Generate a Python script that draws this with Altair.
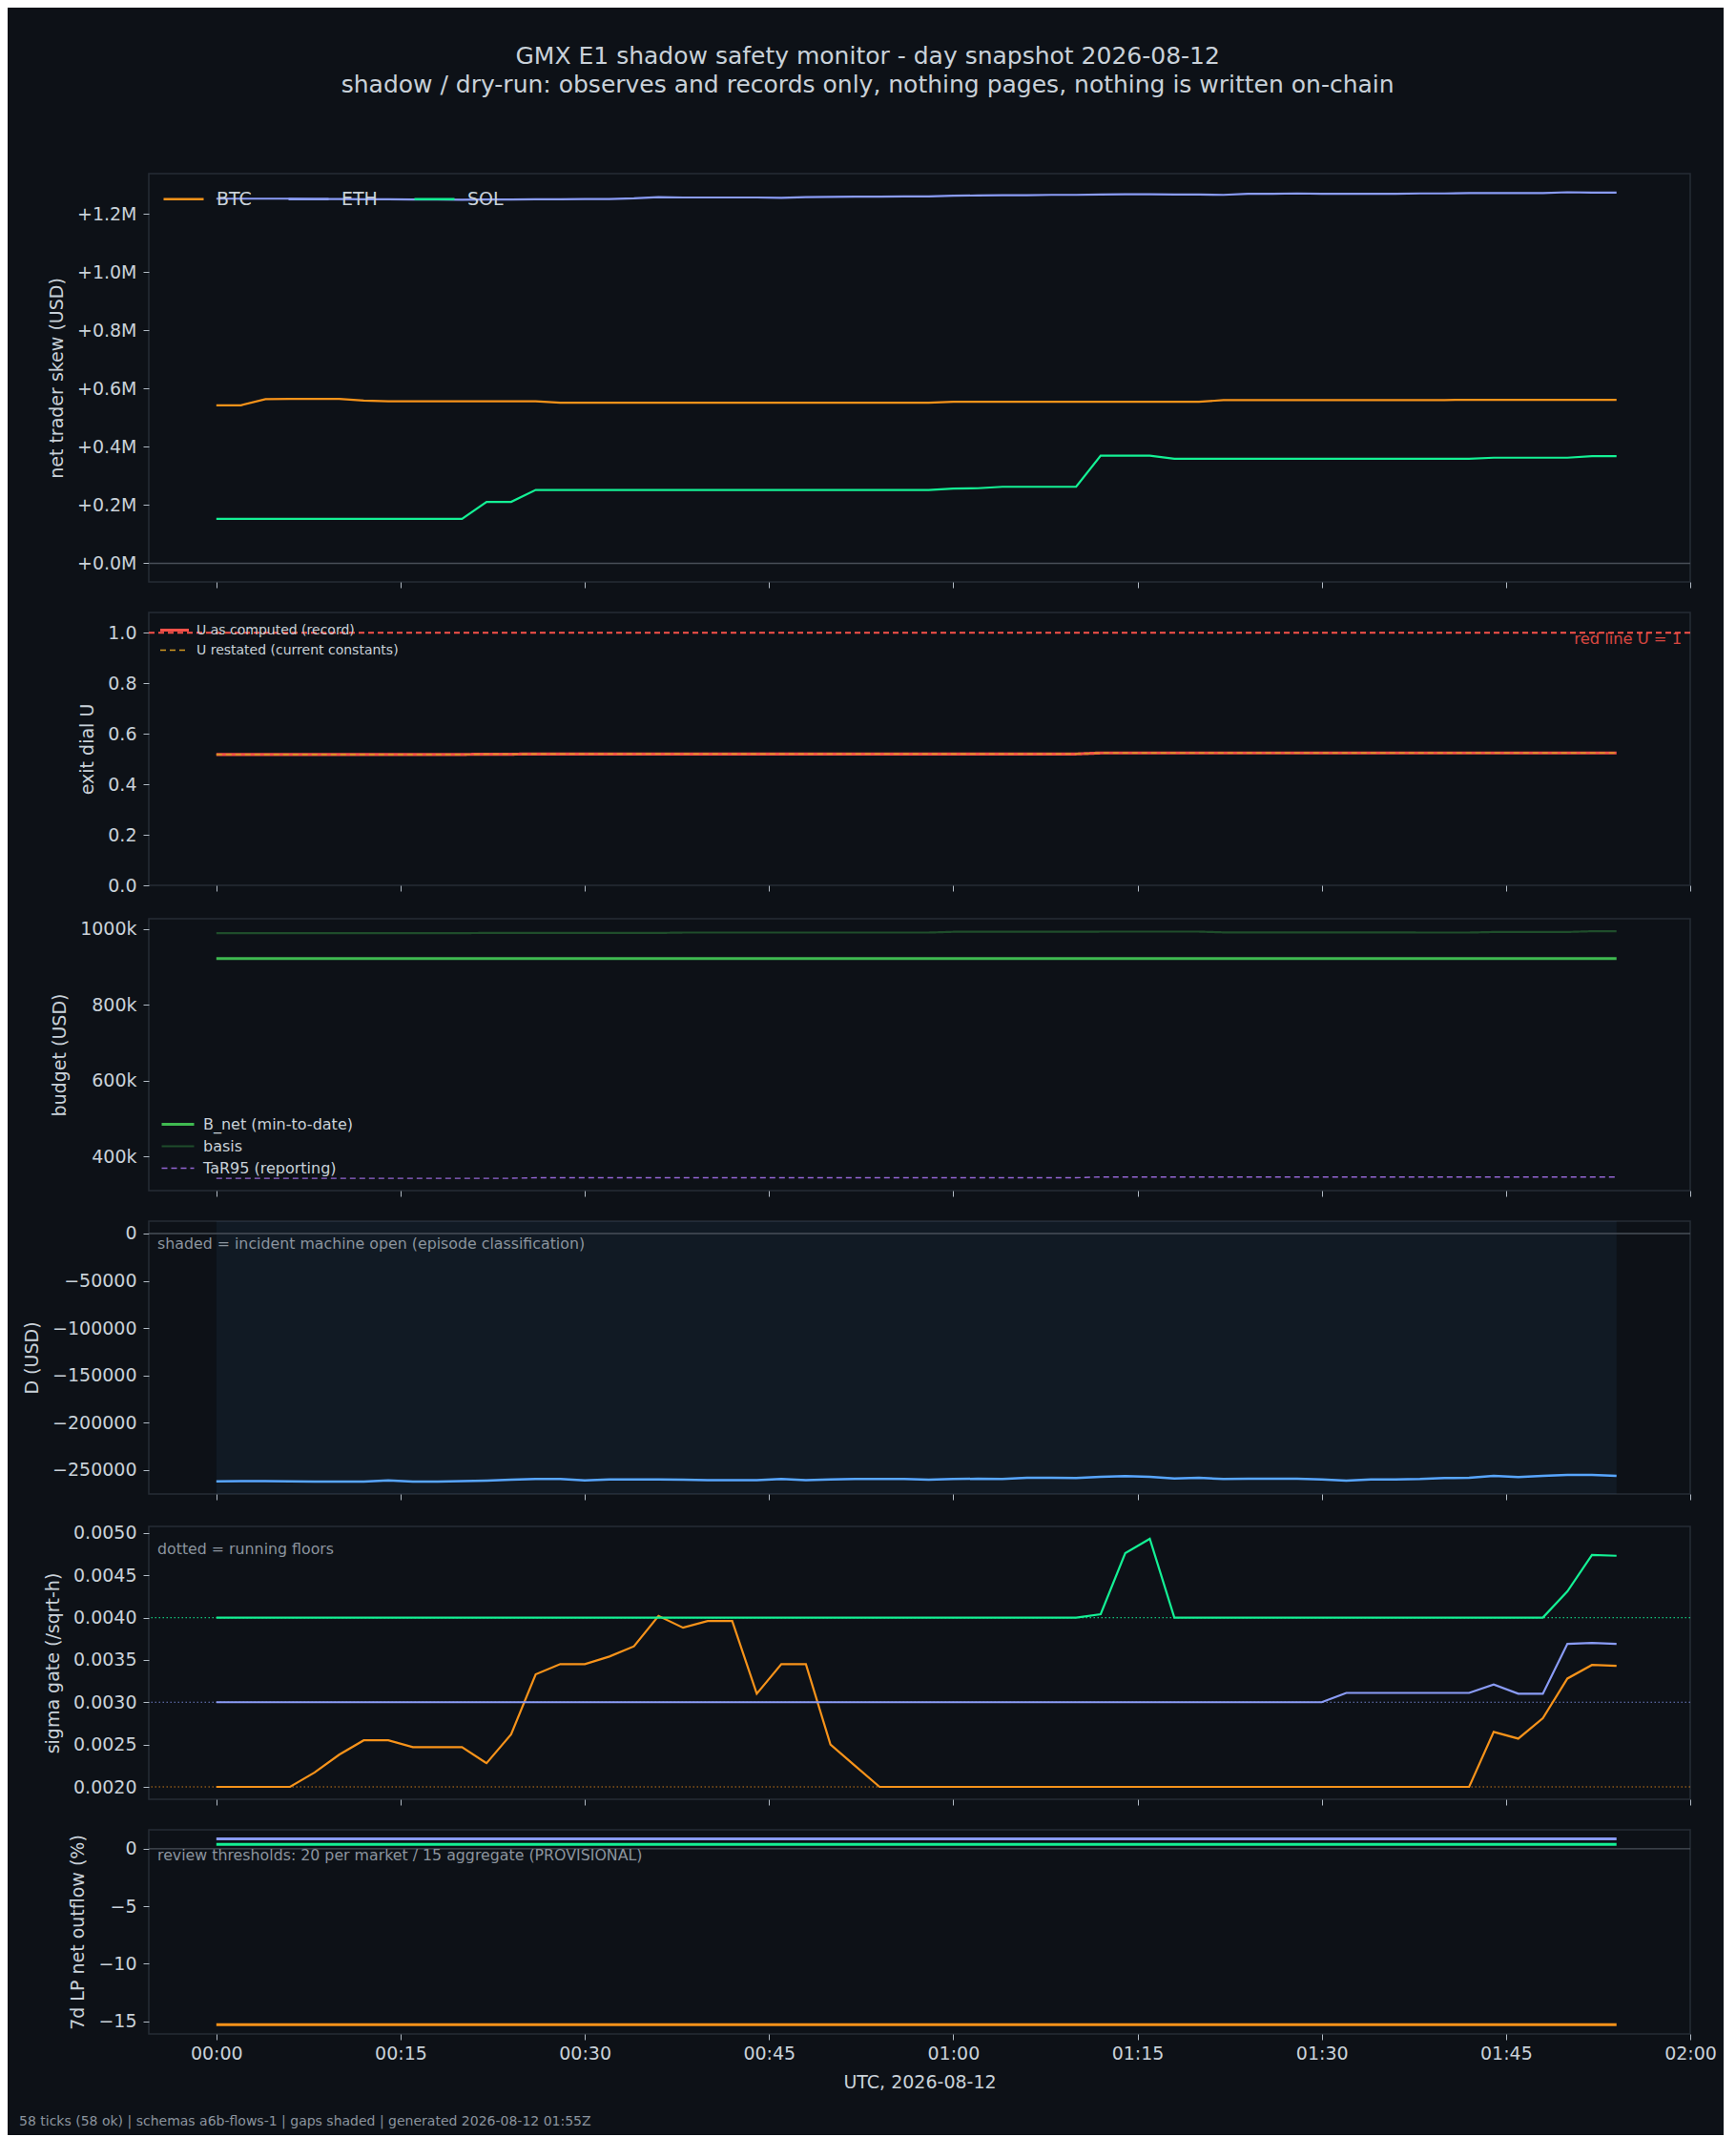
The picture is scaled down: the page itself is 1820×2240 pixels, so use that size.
import altair as alt
import pandas as pd

# 58 ticks, one every two minutes from 00:00 UTC
MINUTES = list(range(0, 116, 2))
X_TICKS = [0, 15, 30, 45, 60, 75, 90, 105, 120]
X_TICK_LABELS = ["00:00", "00:15", "00:30", "00:45", "01:00", "01:15", "01:30", "01:45", "02:00"]

MARKETS = ["BTC", "ETH", "SOL"]
MARKET_COLORS = ["#f7931a", "#8a9cf6", "#14f195"]

SKEW_BTC = [543000, 543000, 564000, 565000, 565000, 565000, 559000, 557000, 557000, 557000,
            557000, 557000, 557000, 557000, 552000, 552000, 552000, 552000, 552000, 552000,
            552000, 552000, 552000, 552000, 552000, 552000, 552000, 552000, 552000, 552000,
            555000, 555000, 555000, 555000, 555000, 555000, 555000, 555000, 555000, 555000,
            555000, 561000, 561000, 561000, 561000, 561000, 561000, 561000, 561000, 561000,
            561000, 562000, 562000, 562000, 562000, 562000, 562000, 562000]
SKEW_ETH = [1253000, 1253000, 1253000, 1253000, 1252000, 1252000, 1251000, 1251000, 1250000, 1250000,
            1249000, 1250000, 1250000, 1251000, 1251000, 1252000, 1252000, 1254000, 1258000, 1257000,
            1257000, 1257000, 1257000, 1256000, 1258000, 1259000, 1260000, 1260000, 1261000, 1261000,
            1263000, 1264000, 1265000, 1265000, 1266000, 1266000, 1267000, 1268000, 1268000, 1267000,
            1267000, 1266000, 1270000, 1270000, 1271000, 1270000, 1270000, 1270000, 1270000, 1271000,
            1271000, 1272000, 1272000, 1272000, 1272000, 1275000, 1274000, 1274000]
SKEW_SOL = [153000, 153000, 153000, 153000, 153000, 153000, 153000, 153000, 153000, 153000,
            153000, 211000, 211000, 252000, 252000, 252000, 252000, 252000, 252000, 252000,
            252000, 252000, 252000, 252000, 252000, 252000, 252000, 252000, 252000, 252000,
            257000, 258000, 263000, 263000, 263000, 263000, 370000, 370000, 370000, 359500,
            359500, 359500, 359500, 359500, 359500, 359500, 359500, 359500, 359500, 359500,
            359500, 359500, 363000, 363000, 363000, 363000, 368000, 368000]

U_SERIES = ["U as computed (record)", "U restated (current constants)"]
U_RECORD = [0.518, 0.518, 0.518, 0.518, 0.518, 0.518, 0.518, 0.518, 0.518, 0.518,
            0.518, 0.519, 0.519, 0.520, 0.520, 0.520, 0.520, 0.520, 0.520, 0.520,
            0.520, 0.520, 0.520, 0.520, 0.520, 0.520, 0.520, 0.520, 0.520, 0.520,
            0.520, 0.520, 0.520, 0.520, 0.520, 0.520, 0.524, 0.524, 0.524, 0.524,
            0.524, 0.524, 0.524, 0.524, 0.524, 0.524, 0.524, 0.524, 0.524, 0.524,
            0.524, 0.524, 0.524, 0.524, 0.524, 0.524, 0.524, 0.524]
U_RESTATED = [0.518, 0.518, 0.518, 0.518, 0.518, 0.518, 0.518, 0.518, 0.518, 0.518,
              0.518, 0.519, 0.519, 0.520, 0.520, 0.520, 0.520, 0.520, 0.520, 0.520,
              0.520, 0.520, 0.520, 0.520, 0.520, 0.520, 0.520, 0.520, 0.520, 0.520,
              0.520, 0.520, 0.520, 0.520, 0.520, 0.520, 0.524, 0.524, 0.524, 0.524,
              0.524, 0.524, 0.524, 0.524, 0.524, 0.524, 0.524, 0.524, 0.524, 0.524,
              0.524, 0.524, 0.524, 0.524, 0.524, 0.524, 0.524, 0.524]
RED_LINE = 1.0

BUDGET_SERIES = ["B_net (min-to-date)", "basis", "TaR95 (reporting)"]
B_NET = [922000, 922000, 922000, 922000, 922000, 922000, 922000, 922000, 922000, 922000,
         922000, 922000, 922000, 922000, 922000, 922000, 922000, 922000, 922000, 922000,
         922000, 922000, 922000, 922000, 922000, 922000, 922000, 922000, 922000, 922000,
         922000, 922000, 922000, 922000, 922000, 922000, 922000, 922000, 922000, 922000,
         922000, 922000, 922000, 922000, 922000, 922000, 922000, 922000, 922000, 922000,
         922000, 922000, 922000, 922000, 922000, 922000, 922000, 922000]
BASIS = [989000, 989000, 989000, 989000, 989000, 989000, 989000, 989000, 989000, 989000,
         989000, 989500, 989500, 989500, 989500, 989500, 989500, 989500, 989500, 990500,
         990500, 990500, 990500, 990500, 990500, 990500, 990500, 990500, 990500, 990500,
         992500, 992500, 992500, 992500, 992500, 992500, 993000, 993000, 993000, 993000,
         993000, 991000, 991000, 991000, 991000, 991000, 991000, 991000, 991000, 990500,
         990500, 990500, 992000, 992000, 992000, 992000, 994000, 994000]
TAR95 = [342500, 342500, 342500, 342500, 342500, 342500, 342500, 342500, 342500, 342500,
         342500, 342500, 342500, 344000, 344000, 344000, 344000, 344000, 344000, 344000,
         344000, 344000, 344000, 344000, 344000, 344000, 344000, 344000, 344000, 344000,
         344000, 344000, 344000, 344000, 344000, 344000, 346000, 346000, 346000, 346000,
         346000, 346000, 346000, 346000, 346000, 346000, 346000, 346000, 346000, 346000,
         346000, 346000, 346000, 346000, 346000, 346000, 346000, 346000]

D_USD = [-262000, -261700, -261700, -262000, -262300, -262300, -262300, -261000, -262300, -262300,
         -261700, -261300, -260300, -259600, -259600, -261000, -260000, -260000, -260000, -260300,
         -260700, -260700, -260700, -259600, -260700, -260000, -259600, -259600, -259600, -260300,
         -259600, -259300, -259600, -258300, -258300, -258600, -257300, -256600, -257300, -259000,
         -258300, -259600, -259300, -259300, -259300, -260000, -261300, -260000, -260000, -259600,
         -258600, -258300, -256300, -257600, -256300, -255300, -255300, -256300]
INCIDENT_OPEN = [0, 114]

SIGMA_BTC = [0.00200, 0.00200, 0.00200, 0.00200, 0.00217, 0.00238, 0.00255, 0.00255, 0.00247, 0.00247,
             0.00247, 0.00228, 0.00262, 0.00333, 0.00345, 0.00345, 0.00354, 0.00366, 0.00402, 0.00388,
             0.00396, 0.00396, 0.00310, 0.00345, 0.00345, 0.00250, 0.00225, 0.00200, 0.00200, 0.00200,
             0.00200, 0.00200, 0.00200, 0.00200, 0.00200, 0.00200, 0.00200, 0.00200, 0.00200, 0.00200,
             0.00200, 0.00200, 0.00200, 0.00200, 0.00200, 0.00200, 0.00200, 0.00200, 0.00200, 0.00200,
             0.00200, 0.00200, 0.00265, 0.00257, 0.00281, 0.00328, 0.00344, 0.00343]
SIGMA_ETH = [0.00300, 0.00300, 0.00300, 0.00300, 0.00300, 0.00300, 0.00300, 0.00300, 0.00300, 0.00300,
             0.00300, 0.00300, 0.00300, 0.00300, 0.00300, 0.00300, 0.00300, 0.00300, 0.00300, 0.00300,
             0.00300, 0.00300, 0.00300, 0.00300, 0.00300, 0.00300, 0.00300, 0.00300, 0.00300, 0.00300,
             0.00300, 0.00300, 0.00300, 0.00300, 0.00300, 0.00300, 0.00300, 0.00300, 0.00300, 0.00300,
             0.00300, 0.00300, 0.00300, 0.00300, 0.00300, 0.00300, 0.00311, 0.00311, 0.00311, 0.00311,
             0.00311, 0.00311, 0.00321, 0.00310, 0.00310, 0.00369, 0.00370, 0.00369]
SIGMA_SOL = [0.00400, 0.00400, 0.00400, 0.00400, 0.00400, 0.00400, 0.00400, 0.00400, 0.00400, 0.00400,
             0.00400, 0.00400, 0.00400, 0.00400, 0.00400, 0.00400, 0.00400, 0.00400, 0.00400, 0.00400,
             0.00400, 0.00400, 0.00400, 0.00400, 0.00400, 0.00400, 0.00400, 0.00400, 0.00400, 0.00400,
             0.00400, 0.00400, 0.00400, 0.00400, 0.00400, 0.00400, 0.00404, 0.00476, 0.00493, 0.00400,
             0.00400, 0.00400, 0.00400, 0.00400, 0.00400, 0.00400, 0.00400, 0.00400, 0.00400, 0.00400,
             0.00400, 0.00400, 0.00400, 0.00400, 0.00400, 0.00431, 0.00474, 0.00473]
SIGMA_FLOORS = [0.0020, 0.0030, 0.0040]

LP_BTC = [-15.3, -15.3, -15.3, -15.3, -15.3, -15.3, -15.3, -15.3, -15.3, -15.3,
          -15.3, -15.3, -15.3, -15.3, -15.3, -15.3, -15.3, -15.3, -15.3, -15.3,
          -15.3, -15.3, -15.3, -15.3, -15.3, -15.3, -15.3, -15.3, -15.3, -15.3,
          -15.3, -15.3, -15.3, -15.3, -15.3, -15.3, -15.3, -15.3, -15.3, -15.3,
          -15.3, -15.3, -15.3, -15.3, -15.3, -15.3, -15.3, -15.3, -15.3, -15.3,
          -15.3, -15.3, -15.3, -15.3, -15.3, -15.3, -15.3, -15.3]
LP_ETH = [0.86, 0.86, 0.86, 0.86, 0.86, 0.86, 0.86, 0.86, 0.86, 0.86,
          0.86, 0.86, 0.86, 0.86, 0.86, 0.86, 0.86, 0.86, 0.86, 0.86,
          0.86, 0.86, 0.86, 0.86, 0.86, 0.86, 0.86, 0.86, 0.86, 0.86,
          0.86, 0.86, 0.86, 0.86, 0.86, 0.86, 0.86, 0.86, 0.86, 0.86,
          0.86, 0.86, 0.86, 0.86, 0.86, 0.86, 0.86, 0.86, 0.86, 0.86,
          0.86, 0.86, 0.86, 0.86, 0.86, 0.86, 0.86, 0.86]
LP_SOL = [0.39, 0.39, 0.39, 0.39, 0.39, 0.39, 0.39, 0.39, 0.39, 0.39,
          0.39, 0.39, 0.39, 0.39, 0.39, 0.39, 0.39, 0.39, 0.39, 0.39,
          0.39, 0.39, 0.39, 0.39, 0.39, 0.39, 0.39, 0.39, 0.39, 0.39,
          0.39, 0.39, 0.39, 0.39, 0.39, 0.39, 0.39, 0.39, 0.39, 0.39,
          0.39, 0.39, 0.39, 0.39, 0.39, 0.39, 0.39, 0.39, 0.39, 0.39,
          0.39, 0.39, 0.39, 0.39, 0.39, 0.39, 0.39, 0.39]

TITLE = ["GMX E1 shadow safety monitor - day snapshot 2026-08-12",
         "shadow / dry-run: observes and records only, nothing pages, nothing is written on-chain"]
NOTE_SHADE = "shaded = incident machine open (episode classification)"
NOTE_FLOORS = "dotted = running floors"
NOTE_LP = "review thresholds: 20 per market / 15 aggregate (PROVISIONAL)"
FOOTER = "58 ticks (58 ok) | schemas a6b-flows-1 | gaps shaded | generated 2026-08-12 01:55Z"

BG = "#0d1117"
FG = "#c9d1d9"
MUTED = "#8b949e"
ZERO = "#484f58"
W = 1616


def long_frame(series_names, columns, value_name):
    rows = []
    for name, vals in zip(series_names, columns):
        for m, v in zip(MINUTES, vals):
            rows.append({"minute": m, "series": name, value_name: v})
    return pd.DataFrame(rows)


x_scale = alt.Scale(domain=[-5.5, 120], nice=False, zero=False)
label_lookup = "[" + ", ".join(f"'{s}'" for s in X_TICK_LABELS) + "][round(datum.value / 15)]"


def x_enc(field="minute", bottom=False):
    if bottom:
        axis = alt.Axis(values=X_TICKS, labelExpr=label_lookup, title="UTC, 2026-08-12",
                        labelPadding=5, titlePadding=11, labelFlush=False, labelOverlap=False)
    else:
        axis = alt.Axis(values=X_TICKS, labels=False, title=None)
    return alt.X(f"{field}:Q", scale=x_scale, axis=axis)


def note(text, y):
    return alt.Chart(pd.DataFrame({"note": [text]})).mark_text(
        align="left", baseline="middle", fontSize=15.8, color=MUTED
    ).encode(x=alt.value(9), y=alt.value(y), text="note:N")


market_color = alt.Color("series:N", scale=alt.Scale(domain=MARKETS, range=MARKET_COLORS), legend=None)

# --- panel 1: net trader skew
skew = long_frame(MARKETS, [SKEW_BTC, SKEW_ETH, SKEW_SOL], "skew")
y1 = alt.Y("skew:Q", scale=alt.Scale(domain=[-64000, 1339000], nice=False, zero=False),
           axis=alt.Axis(values=[0, 200000, 400000, 600000, 800000, 1000000, 1200000],
                         labelExpr="'+' + format(datum.value / 1000000, '.1f') + 'M'",
                         title="net trader skew (USD)"))
p1 = alt.layer(
    alt.Chart(pd.DataFrame({"skew": [0]})).mark_rule(color=ZERO, strokeWidth=1.3).encode(y=y1),
    alt.Chart(skew).mark_line(strokeWidth=2.2).encode(
        x=x_enc(), y=y1,
        color=alt.Color("series:N", scale=alt.Scale(domain=MARKETS, range=MARKET_COLORS),
                        legend=alt.Legend(orient="none", legendX=14, legendY=4, direction="horizontal",
                                          title=None, symbolType="stroke", symbolSize=1764,
                                          symbolStrokeWidth=2.5, labelFontSize=19, labelOffset=12,
                                          columnPadding=33)),
    ),
).properties(width=W, height=428)

# --- panel 2: exit dial U
u = long_frame(U_SERIES, [U_RECORD, U_RESTATED], "u")
y2 = alt.Y("u:Q", scale=alt.Scale(domain=[0, 1.08], nice=False, zero=False),
           axis=alt.Axis(values=[0, 0.2, 0.4, 0.6, 0.8, 1.0], format=".1f", title="exit dial U"))
u_legend = alt.Legend(orient="none", legendX=10, legendY=9, title=None, symbolType="stroke",
                      symbolSize=900, labelFontSize=14, labelOffset=6, clipHeight=19, rowPadding=2,
                      labelLimit=0)
u_enc = dict(
    x=x_enc(), y=y2,
    color=alt.Color("series:N", scale=alt.Scale(domain=U_SERIES, range=["#f85149", "#d29922"]), legend=u_legend),
    strokeDash=alt.StrokeDash("series:N", scale=alt.Scale(domain=U_SERIES, range=[[1, 0], [6, 4]]), legend=u_legend),
    strokeWidth=alt.StrokeWidth("series:N", scale=alt.Scale(domain=U_SERIES, range=[3.2, 1.6]), legend=u_legend),
)
red = pd.DataFrame({"u": [RED_LINE], "note": ["red line U = 1"]})
p2 = alt.layer(
    alt.Chart(red).mark_rule(color="#f85149", strokeDash=[6, 4], strokeWidth=2).encode(y=y2),
    alt.Chart(u[u.series == U_SERIES[0]]).mark_line().encode(**u_enc),
    alt.Chart(u[u.series == U_SERIES[1]]).mark_line().encode(**u_enc),
    alt.Chart(red).mark_text(align="right", baseline="top", fontSize=16.3, color="#f85149", opacity=0.85, dy=-1).encode(
        x=alt.value(W - 9), y=y2, text="note:N"),
).properties(width=W, height=286)

# --- panel 3: budget
budget = long_frame(BUDGET_SERIES, [B_NET, BASIS, TAR95], "budget")
y3 = alt.Y("budget:Q", scale=alt.Scale(domain=[310000, 1027000], nice=False, zero=False),
           axis=alt.Axis(values=[400000, 600000, 800000, 1000000],
                         labelExpr="format(datum.value / 1000, 'd') + 'k'", title="budget (USD)"))
b_legend = alt.Legend(orient="none", legendX=12, legendY=205, title=None, symbolType="stroke",
                      symbolSize=1156, labelFontSize=16, labelOffset=8, clipHeight=21, rowPadding=2,
                      labelLimit=0)
p3 = alt.Chart(budget).mark_line().encode(
    x=x_enc(), y=y3,
    color=alt.Color("series:N", scale=alt.Scale(domain=BUDGET_SERIES, range=["#3fb950", "#1f4d2b", "#9466d4"]),
                    legend=b_legend),
    strokeDash=alt.StrokeDash("series:N", scale=alt.Scale(domain=BUDGET_SERIES, range=[[1, 0], [1, 0], [6, 4]]),
                              legend=b_legend),
    strokeWidth=alt.StrokeWidth("series:N", scale=alt.Scale(domain=BUDGET_SERIES, range=[3, 1.4, 1.8]),
                                legend=b_legend),
).properties(width=W, height=285)

# --- panel 4: D
d = pd.DataFrame({"minute": MINUTES, "d": D_USD})
y4 = alt.Y("d:Q", scale=alt.Scale(domain=[-275400, 13100], nice=False, zero=False),
           axis=alt.Axis(values=[0, -50000, -100000, -150000, -200000, -250000], format="d", title="D (USD)"))
shade = pd.DataFrame({"start": [INCIDENT_OPEN[0]], "end": [INCIDENT_OPEN[1]]})
p4 = alt.layer(
    alt.Chart(shade).mark_rect(color="#58a6ff", opacity=0.06).encode(
        x=x_enc("start"), x2="end:Q"),
    alt.Chart(pd.DataFrame({"d": [0]})).mark_rule(color=ZERO, strokeWidth=1.3).encode(y=y4),
    alt.Chart(d).mark_line(color="#58a6ff", strokeWidth=2.5).encode(x=x_enc(), y=y4),
    note(NOTE_SHADE, 24),
).properties(width=W, height=286)

# --- panel 5: sigma gate
sigma = long_frame(MARKETS, [SIGMA_BTC, SIGMA_ETH, SIGMA_SOL], "sigma")
floors = pd.DataFrame({"series": MARKETS, "sigma": SIGMA_FLOORS})
y5 = alt.Y("sigma:Q", scale=alt.Scale(domain=[0.0018535, 0.0050765], nice=False, zero=False),
           axis=alt.Axis(values=[0.0020, 0.0025, 0.0030, 0.0035, 0.0040, 0.0045, 0.0050], format=".4f",
                         title="sigma gate (/sqrt-h)"))
p5 = alt.layer(
    alt.Chart(floors).mark_rule(strokeDash=[1.5, 2.5], strokeWidth=1.2, opacity=0.8).encode(
        y=y5, color=market_color),
    alt.Chart(sigma).mark_line(strokeWidth=2.2).encode(x=x_enc(), y=y5, color=market_color),
    note(NOTE_FLOORS, 24),
).properties(width=W, height=286)

# --- panel 6: 7d LP net outflow
lp = long_frame(MARKETS, [LP_BTC, LP_ETH, LP_SOL], "lp")
y6 = alt.Y("lp:Q", scale=alt.Scale(domain=[-16.1, 1.65], nice=False, zero=False),
           axis=alt.Axis(values=[0, -5, -10, -15], format="d", title="7d LP net outflow (%)"))
footer = alt.Chart(pd.DataFrame({"note": [FOOTER]})).mark_text(
    align="left", baseline="middle", fontSize=14, color=MUTED
).encode(x=alt.value(-136), y=alt.value(306), text="note:N")
p6 = alt.layer(
    alt.Chart(pd.DataFrame({"lp": [0]})).mark_rule(color=ZERO, strokeWidth=1.3).encode(y=y6),
    alt.Chart(lp).mark_line(strokeWidth=3).encode(x=x_enc(bottom=True), y=y6, color=market_color),
    note(NOTE_LP, 27),
    footer,
).properties(width=W, height=214)

chart = alt.vconcat(p1, p2, p3, p4, p5, p6, spacing=23).resolve_scale(
    color="independent", strokeDash="independent", strokeWidth="independent"
).resolve_legend(
    color="independent", strokeDash="independent", strokeWidth="independent"
).properties(
    title=alt.TitleParams(TITLE, anchor="middle", fontSize=25, lineHeight=30, offset=79,
                          color=FG, font="DejaVu Sans", fontWeight="normal"),
    padding={"left": 11, "top": 39, "right": 6, "bottom": 6},
    background=BG,
).configure_view(
    stroke="#262c36", strokeWidth=1.5, fill=BG
).configure_axis(
    labelColor=FG, titleColor=FG, tickColor="#b1bac4", tickSize=6, labelPadding=7, titlePadding=11,
    labelFont="DejaVu Sans", titleFont="DejaVu Sans", labelFontSize=19, titleFontSize=19,
    titleFontWeight="normal", grid=False, domain=False
).configure_legend(
    labelColor=FG, labelFont="DejaVu Sans", padding=0
).configure_text(font="DejaVu Sans")

chart.save("out.html", embed_options={"renderer": "svg", "actions": False})
